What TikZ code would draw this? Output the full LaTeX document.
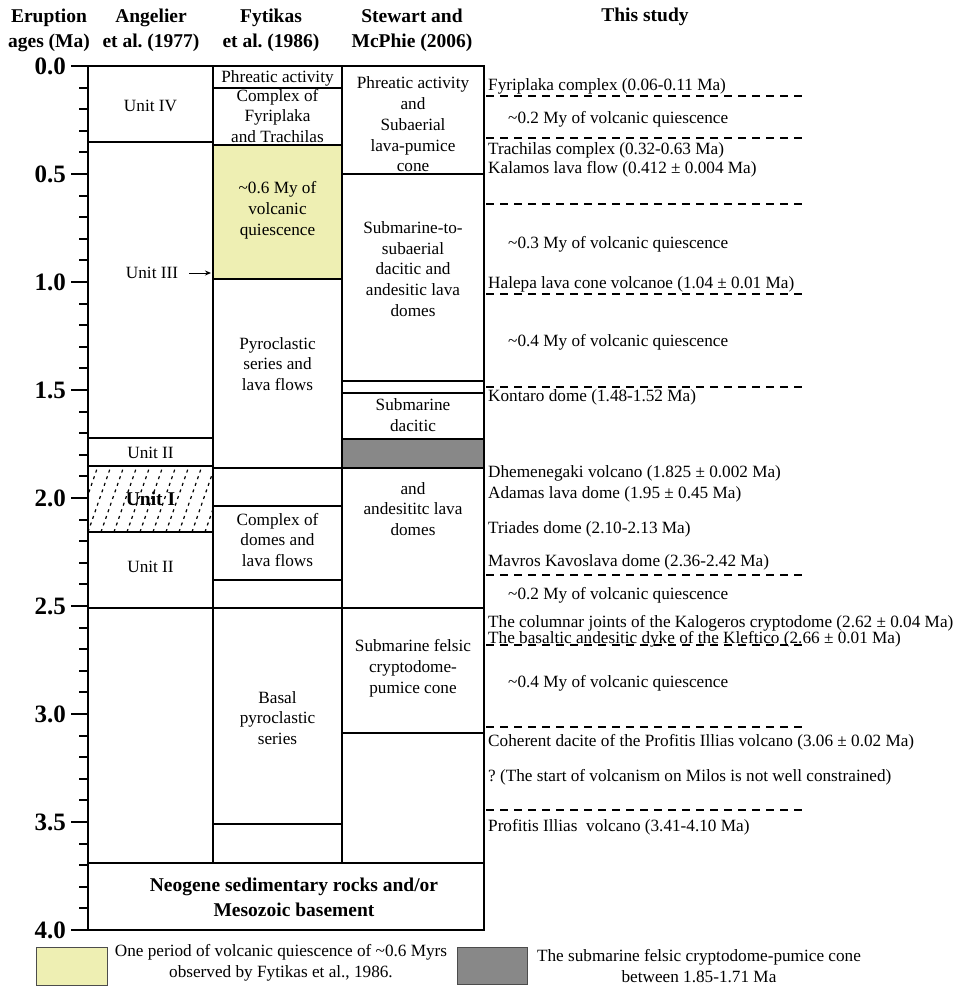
\documentclass[tikz,border=0pt]{standalone}
\usepackage{fontspec}
\setmainfont{Liberation Serif}
\usetikzlibrary{arrows.meta}
\definecolor{quiet}{HTML}{EEEFB3}
\definecolor{cryptogray}{HTML}{888888}
\frenchspacing
\begin{document}
\frenchspacing
\begin{tikzpicture}[x=1pt,y=-1pt,
  txt/.style={font=\fontsize{17.2}{20.8}\selectfont, align=center, inner sep=0pt},
  lt/.style={txt, anchor=west, align=left},
  hd/.style={font=\fontsize{19.5}{25}\selectfont\bfseries, align=center, inner sep=0pt},
  bt/.style={font=\fontsize{19.5}{25}\selectfont\bfseries, align=center, inner sep=0pt},
  ax/.style={font=\fontsize{25}{25}\selectfont\bfseries, anchor=east, inner sep=0pt},
  boxline/.style={line width=2.6pt},
  thinline/.style={line width=1.2pt},
  quiesline/.style={line width=1.2pt, dash pattern=on 8pt off 6pt},
  hatchline/.style={line width=1.2pt, dash pattern=on 3pt off 4pt},
  tickline/.style={line width=2pt}]
\useasboundingbox (0,0) rectangle (958,986);

% ---------- fills ----------
\fill[quiet] (213,145) rectangle (342,279);
\fill[cryptogray] (342,439) rectangle (484,468);

% ---------- hatch of Unit I ----------
\begin{scope}
  \clip (88,466) rectangle (213,532);
  \foreach \i in {0,...,13}
    \draw[hatchline] ({62+13*\i},532) -- ++(23,-66);
\end{scope}

% ---------- thin horizontal boundaries ----------
% Angelier et al. (1977)
\foreach \yy in {142,438,466,532,608}
  \draw[thinline] (88,\yy) -- (213,\yy);
% Fytikas et al. (1986)
\foreach \yy in {88,145,279,468,506,580,608,824}
  \draw[thinline] (213,\yy) -- (342,\yy);
% Stewart and McPhie (2006)
\foreach \yy in {174,381,393,439,468,608,733}
  \draw[thinline] (342,\yy) -- (484,\yy);

% ---------- frame ----------
\draw[boxline] (88,66) rectangle (484,930);
\draw[boxline] (213,66) -- (213,863);
\draw[boxline] (342,66) -- (342,863);
\draw[boxline] (88,863) -- (484,863);

% ---------- axis ----------
\foreach \i in {0,...,40}
  \draw[tickline] (79,{66+21.6*\i}) -- (88,{66+21.6*\i});
\foreach \i/\lab in {0/0.0,1/0.5,2/1.0,3/1.5,4/2.0,5/2.5,6/3.0,7/3.5,8/4.0}{
  \draw[tickline] (71,{66+108*\i}) -- (88,{66+108*\i});
  \node[ax] (ax\i) at (66,{66+108*\i}) {\lab};
}

% ---------- headers ----------
\node[hd] (h1) at (49,30) {Eruption\\ages (Ma)};
\node[hd] (h2) at (151,30) {Angelier\\et al. (1977)};
\node[hd] (h3) at (271,30) {Fytikas\\et al. (1986)};
\node[hd] (h4) at (412,30) {Stewart and\\McPhie (2006)};
\node[hd] (h5) at (645,17) {This study};

% ---------- Angelier column ----------
\node[txt] (u4) at (150.5,106) {Unit IV};
\node[txt] (u3) at (152,273) {Unit III};
\coordinate (u3tip) at (211,273);
\draw[line width=1pt,-{Stealth[length=6pt,width=5pt]}] ([xshift=11pt]u3.east) -- (u3tip);
\node[txt] (u2a) at (150.5,453) {Unit II};
\node[bt] (u1) at (150.5,499) {Unit I};
\node[txt] (u2b) at (150.5,567) {Unit II};

% ---------- Fytikas column ----------
\node[txt] (f1) at (277.5,78) {Phreatic activity};
\node[txt] (f2) at (277.5,116) {Complex of\\Fyriplaka\\and Trachilas};
\node[txt] (f3) at (277.5,210) {\textasciitilde0.6 My of\\volcanic\\quiescence};
\node[txt] (f4) at (277.5,364) {Pyroclastic\\series and\\lava flows};
\node[txt] (f5) at (277.5,540) {Complex of\\domes and\\lava flows};
\node[txt] (f6) at (277.5,718) {Basal\\pyroclastic\\series};

% ---------- Stewart column ----------
\node[txt] (s1) at (413,124.5) {Phreatic activity\\and\\Subaerial\\lava-pumice\\cone};
\node[txt] (s2) at (413,269) {Submarine-to-\\subaerial\\dacitic and\\andesitic lava\\domes};
\node[txt] (s3) at (413,415) {Submarine\\dacitic};
\node[txt] (s4) at (413,509) {and\\andesititc lava\\domes};
\node[txt] (s5) at (413,668) {Submarine felsic\\cryptodome-\\pumice cone};

% ---------- basement ----------
\node[bt] (base) at (294,897) {Neogene sedimentary rocks and/or\\Mesozoic basement};

% ---------- This study ----------
\foreach \yy in {96,138,204,294,387,575,645,727,810}
  \draw[quiesline] (486,\yy) -- (807,\yy);
\node[lt] (r1)  at (488,86)  {Fyriplaka complex (0.06-0.11 Ma)};
\node[lt] (q1)  at (508,119) {\textasciitilde0.2 My of volcanic quiescence};
\node[lt] (r2)  at (488,150) {Trachilas complex (0.32-0.63 Ma)};
\node[lt] (r3)  at (488,169) {Kalamos lava flow (0.412 ± 0.004 Ma)};
\node[lt] (q2)  at (508,244) {\textasciitilde0.3 My of volcanic quiescence};
\node[lt] (r4)  at (488,284) {Halepa lava cone volcanoe (1.04 ± 0.01 Ma)};
\node[lt] (q3)  at (508,342) {\textasciitilde0.4 My of volcanic quiescence};
\node[lt] (r5)  at (488,397) {Kontaro dome (1.48-1.52 Ma)};
\node[lt] (r6)  at (488,473) {Dhemenegaki volcano (1.825 ± 0.002 Ma)};
\node[lt] (r7)  at (488,494) {Adamas lava dome (1.95 ± 0.45 Ma)};
\node[lt] (r8)  at (488,529) {Triades dome (2.10-2.13 Ma)};
\node[lt] (r9)  at (488,562) {Mavros Kavoslava dome (2.36-2.42 Ma)};
\node[lt] (q4)  at (508,595) {\textasciitilde0.2 My of volcanic quiescence};
\node[lt] (r10) at (488,623) {The columnar joints of the Kalogeros cryptodome (2.62 ± 0.04 Ma)};
\node[lt] (r11) at (488,639) {The basaltic andesitic dyke of the Kleftico (2.66 ± 0.01 Ma)};
\node[lt] (q5)  at (508,683) {\textasciitilde0.4 My of volcanic quiescence};
\node[lt] (r12) at (488,742) {Coherent dacite of the Profitis Illias volcano (3.06 ± 0.02 Ma)};
\node[lt] (r13) at (488,777) {? (The start of volcanism on Milos is not well constrained)};
\node[lt] (r14) at (488,827) {Profitis Illias~ volcano (3.41-4.10 Ma)};

% ---------- legend ----------
\draw[line width=1pt, draw=black!70, fill=quiet] (36,947) rectangle (107,985);
\node[txt] (leg1) at (281,963) {One period of volcanic quiescence of \textasciitilde0.6 Myrs\\observed by Fytikas et al., 1986.};
\draw[line width=1pt, draw=black!70, fill=cryptogray] (457,947) rectangle (527,984);
\node[txt] (leg2) at (699,966) {The submarine felsic cryptodome-pumice cone\\between 1.85-1.71 Ma};
\end{tikzpicture}
\end{document}
